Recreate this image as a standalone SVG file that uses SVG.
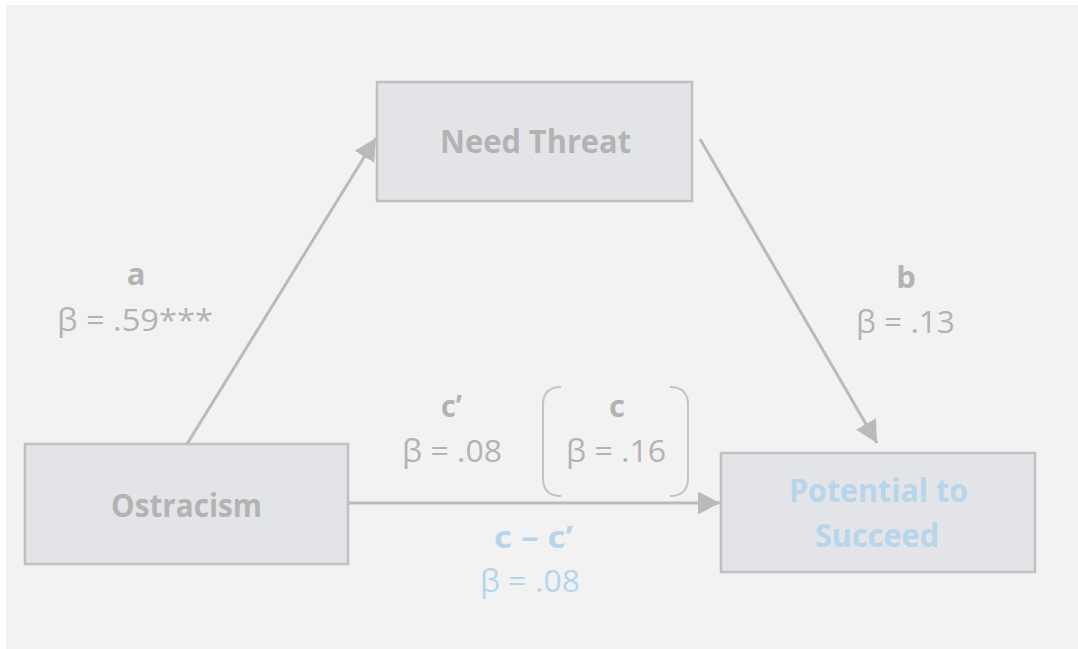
<svg xmlns="http://www.w3.org/2000/svg" width="1078" height="649" viewBox="0 0 1078 649">
<defs>
<style>
.node{fill:#e3e4e7;stroke:#c0c0c0;stroke-width:2.5}
.t{font-family:"Open Sans","Liberation Sans",sans-serif;fill:#b3b3b3}
.b{font-weight:bold}
.blue{fill:#b7d5eb}
.lbl{font-size:31px}
.edge{stroke:#bababa;stroke-width:3;fill:none}
.brk{stroke:#c4c4c4;stroke-width:2;fill:none}
</style>
<marker id="ah" markerUnits="userSpaceOnUse" markerWidth="24" markerHeight="24" refX="22" refY="11.5" orient="auto" viewBox="0 0 24 24">
<path d="M0,0 L22,11.5 L0,23 z" fill="#bababa"/>
</marker>
</defs>
<rect x="0" y="0" width="1078" height="649" fill="#ffffff"/>
<rect x="6" y="5" width="1072" height="644" fill="#f2f2f2"/>

<g id="connectors">
<line class="edge" x1="187" y1="444" x2="376" y2="138" marker-end="url(#ah)"/>
<line class="edge" x1="700" y1="139" x2="877" y2="443" marker-end="url(#ah)"/>
<line class="edge" x1="348" y1="503" x2="720" y2="503" marker-end="url(#ah)"/>
</g>

<g id="need-threat">
<rect class="node" x="377" y="82" width="315" height="119"/>
<text class="t b" x="440" y="153" font-size="32" textLength="191" lengthAdjust="spacingAndGlyphs">Need Threat</text>
</g>

<g id="ostracism">
<rect class="node" x="25" y="444" width="323" height="120"/>
<text class="t b" x="111" y="517" font-size="32" textLength="151" lengthAdjust="spacingAndGlyphs">Ostracism</text>
</g>

<g id="potential">
<rect class="node" x="721" y="453" width="314" height="119"/>
<text class="t b blue" x="789" y="502" font-size="32" textLength="179" lengthAdjust="spacingAndGlyphs">Potential to</text>
<text class="t b blue" x="815" y="547" font-size="32" textLength="124" lengthAdjust="spacingAndGlyphs">Succeed</text>
</g>

<g id="label-a">
<text class="t b lbl" x="136" y="285" text-anchor="middle">a</text>
<text class="t lbl" x="57" y="331" textLength="156" lengthAdjust="spacingAndGlyphs">β = .59***</text>
</g>

<g id="label-b">
<text class="t b lbl" x="906" y="288" text-anchor="middle">b</text>
<text class="t lbl" x="856" y="333" textLength="99" lengthAdjust="spacingAndGlyphs">β = .13</text>
</g>

<g id="label-cprime">
<text class="t b lbl" x="441" y="417" textLength="21" lengthAdjust="spacingAndGlyphs">c’</text>
<text class="t lbl" x="402" y="462" textLength="100" lengthAdjust="spacingAndGlyphs">β = .08</text>
</g>

<g id="label-c">
<path class="brk" d="M561,387 Q543,387 543,405 L543,478 Q543,496 561,496"/>
<path class="brk" d="M670,387 Q688,387 688,405 L688,478 Q688,496 670,496"/>
<text class="t b lbl" x="617" y="417" text-anchor="middle">c</text>
<text class="t lbl" x="566" y="462" textLength="100" lengthAdjust="spacingAndGlyphs">β = .16</text>
</g>

<g id="label-diff">
<text class="t b blue lbl" x="494" y="548" textLength="79" lengthAdjust="spacingAndGlyphs">c – c’</text>
<text class="t blue lbl" x="480" y="592" textLength="100" lengthAdjust="spacingAndGlyphs">β = .08</text>
</g>
</svg>
